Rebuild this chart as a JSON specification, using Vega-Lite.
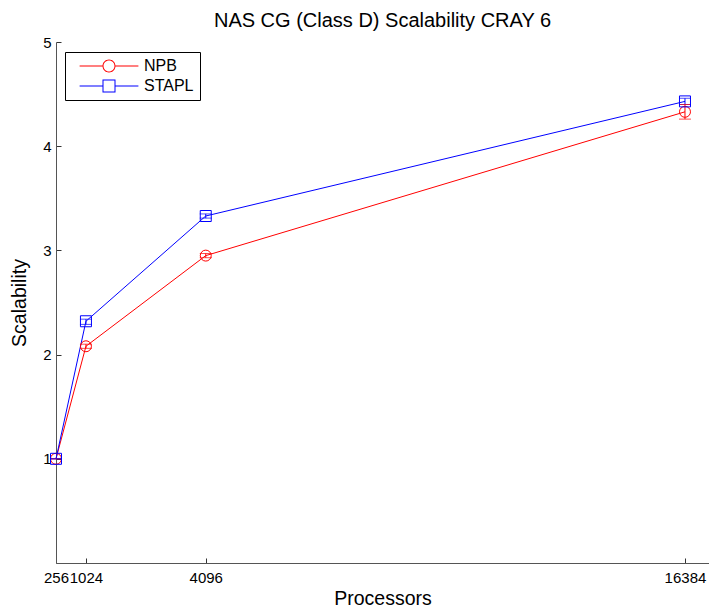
{
  "$schema": "https://vega.github.io/schema/vega-lite/v6.json",
  "width": 653,
  "height": 521,
  "autosize": {"type": "none"},
  "padding": {"left": 56, "top": 42, "right": 0, "bottom": 51},
  "background": "white",
  "config": {
    "view": {"stroke": null},
    "font": "Liberation Sans",
    "axis": {"grid": false, "domainColor": "#555555", "tickColor": "#333333", "labelColor": "#000000", "titleColor": "#000000", "labelFont": "Liberation Sans", "titleFont": "Liberation Sans", "titleFontWeight": "normal", "labelFontSize": 15, "titleFontSize": 19.5}
  },
  "title": {"text": "NAS CG (Class D) Scalability CRAY 6", "font": "Liberation Sans", "fontSize": 20, "fontWeight": "normal", "color": "#000000", "anchor": "middle", "offset": 4},
  "data": {"values": [
    {"p": 256, "s": 1.0, "lo": 1.0, "hi": 1.0, "series": "NPB"},
    {"p": 1024, "s": 2.08, "lo": 2.06, "hi": 2.1, "series": "NPB"},
    {"p": 4096, "s": 2.95, "lo": 2.93, "hi": 2.97, "series": "NPB"},
    {"p": 16384, "s": 4.33, "lo": 4.26, "hi": 4.4, "series": "NPB"},
    {"p": 256, "s": 1.0, "lo": 1.0, "hi": 1.0, "series": "STAPL"},
    {"p": 1024, "s": 2.32, "lo": 2.29, "hi": 2.34, "series": "STAPL"},
    {"p": 4096, "s": 3.33, "lo": 3.31, "hi": 3.35, "series": "STAPL"},
    {"p": 16384, "s": 4.43, "lo": 4.4, "hi": 4.46, "series": "STAPL"}
  ]},
  "encoding": {
    "x": {"field": "p", "type": "quantitative", "scale": {"domain": [256, 17000], "nice": false, "zero": false},
      "axis": {"values": [256, 1024, 4096, 16384], "title": "Processors", "labelOverlap": false, "labelFlush": false, "tickSize": -5, "labelPadding": 12, "labelDx": -2.5, "titlePadding": 4, "format": "d"}},
    "y": {"field": "s", "type": "quantitative", "scale": {"domain": [0, 5], "nice": false},
        "axis": {"values": [1, 2, 3, 4, 5], "format": "d", "title": "Scalability", "tickSize": -5, "labelPadding": 10, "titlePadding": 13}},
    "color": {"field": "series", "type": "nominal", "scale": {"domain": ["NPB", "STAPL"], "range": ["#ff0000", "#0000ff"]}, "legend": null}
  },
  "layer": [
    {"mark": {"type": "point", "filled": true, "strokeWidth": 0, "opacity": 0, "size": 144},
     "encoding": {
       "shape": {"field": "series", "type": "nominal",
         "scale": {"domain": ["NPB", "STAPL"], "range": [
           "M-4.9,-0.0833L-1.0833,-0.0833L-1.0833,0.0833L-4.9,0.0833ZM1.0833,-0.0833L4.9,-0.0833L4.9,0.0833L1.0833,0.0833ZM1.0833,0A1.0833,1.0833,0,1,1,-1.0833,0A1.0833,1.0833,0,1,1,1.0833,0ZM0.9167,0A0.9167,0.9167,0,1,0,-0.9167,0A0.9167,0.9167,0,1,0,0.9167,0Z",
           "M-4.9,-0.0833L-1.0833,-0.0833L-1.0833,0.0833L-4.9,0.0833ZM1.0833,-0.0833L4.9,-0.0833L4.9,0.0833L1.0833,0.0833ZM-1.0833,-1.0833L1.0833,-1.0833L1.0833,1.0833L-1.0833,1.0833ZM-0.9167,-0.9167L-0.9167,0.9167L0.9167,0.9167L0.9167,-0.9167Z"]},
         "legend": {
          "orient": "none", "legendX": 9, "legendY": 10, "title": null,
          "strokeColor": "#000000", "fillColor": "white", "padding": 6, "cornerRadius": 0,
          "symbolSize": 144, "symbolOffset": 30, "labelOffset": 27, "rowPadding": 4,
          "symbolStrokeWidth": 0, "symbolOpacity": 1,
          "labelFontSize": 16, "labelFont": "Liberation Sans", "labelColor": "#000000"}},
       "color": {"field": "series", "type": "nominal", "legend": {
          "orient": "none", "legendX": 9, "legendY": 10, "title": null,
          "strokeColor": "#000000", "fillColor": "white", "padding": 6, "cornerRadius": 0,
          "symbolSize": 144, "symbolOffset": 30, "labelOffset": 27, "rowPadding": 4,
          "symbolStrokeWidth": 0, "symbolOpacity": 1,
          "labelFontSize": 16, "labelFont": "Liberation Sans", "labelColor": "#000000"}}}},
    {"mark": {"type": "line", "strokeWidth": 1},
     "encoding": {}},
    {"mark": {"type": "rule", "strokeWidth": 1},
     "encoding": {"y": {"field": "lo", "type": "quantitative"}, "y2": {"field": "hi"}}},
    {"mark": {"type": "tick", "orient": "horizontal", "size": 12, "thickness": 1},
     "encoding": {"y": {"field": "lo", "type": "quantitative"}}},
    {"mark": {"type": "tick", "orient": "horizontal", "size": 12, "thickness": 1},
     "encoding": {"y": {"field": "hi", "type": "quantitative"}}},
    {"transform": [{"filter": "datum.series === 'NPB'"}],
     "mark": {"type": "point", "shape": "circle", "filled": false, "strokeWidth": 1, "opacity": 1, "size": 120},
     "encoding": {}},
    {"transform": [{"filter": "datum.series === 'STAPL'"}],
     "mark": {"type": "point", "shape": "square", "filled": false, "strokeWidth": 1, "opacity": 1, "size": 121},
     "encoding": {}}
  ]
}
